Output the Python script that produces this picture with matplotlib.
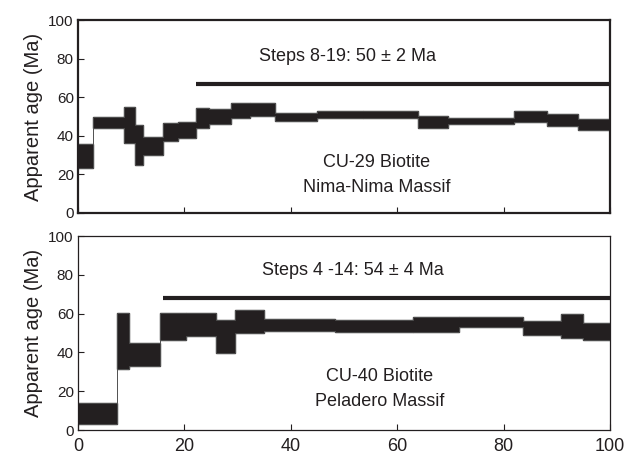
import matplotlib
matplotlib.use("Agg")
import matplotlib.pyplot as plt
import numpy as np

plt.rcParams['font.family'] = ['Liberation Sans', 'DejaVu Sans']

# CU-29 biotite: cumulative %39Ar step edges and age band (low, high) in Ma
cu29_edges = [0, 2.9, 8.7, 10.7, 12.3, 16.0, 18.8, 22.1, 24.6, 28.7, 32.3, 37.0,
              44.9, 53.6, 64.0, 69.5, 82.0, 88.1, 94.0, 100]
cu29_low = [23.2, 44.2, 36.1, 24.9, 30.1, 37.3, 38.7, 43.9, 46.0, 49.1, 50.3,
            47.8, 49.1, 49.1, 44.2, 46.0, 47.3, 45.1, 43.0]
cu29_high = [35.7, 49.9, 54.8, 45.6, 39.2, 46.8, 47.2, 54.2, 53.7, 57.2, 56.8,
             52.0, 52.8, 52.8, 50.3, 49.1, 53.0, 51.1, 48.5]
cu29_plateau = (22.1, 100, 66.7)

# CU-40 biotite
cu40_edges = [0, 7.4, 9.5, 15.5, 20.3, 25.9, 29.5, 35.0, 48.4, 63.0, 71.7, 83.6,
              90.8, 95.0, 100]
cu40_low = [2.9, 31.2, 33.1, 46.3, 48.6, 39.8, 50.1, 51.0, 50.5, 50.3, 53.2,
            48.9, 47.5, 46.2]
cu40_high = [14.1, 60.4, 45.1, 60.4, 60.4, 56.6, 61.8, 57.0, 56.6, 58.4, 58.4,
             56.3, 59.6, 55.0]
cu40_plateau = (15.9, 100, 67.8)

x_ticks = [0, 20, 40, 60, 80, 100]
y_ticks = [0, 20, 40, 60, 80, 100]

ink = '#231f20'

fig = plt.figure(figsize=(6.42, 4.58), dpi=100)
ax1 = fig.add_axes([0.1215, 0.535, 0.8285, 0.4213])
ax2 = fig.add_axes([0.1215, 0.0611, 0.8285, 0.4236])


def spectrum(ax, edges, low, high, plateau, title, l1, l2, tpos, lpos, spine_w):
    e = np.array(edges)
    lo = np.array(low)
    hi = np.array(high)
    ax.bar(e[:-1], hi - lo, width=np.diff(e), bottom=lo, align='edge',
           color=ink, edgecolor=ink, linewidth=1.0)
    # thin connecting outline of the step spectrum
    ax.stairs(hi, e, baseline=lo, fill=False, color='#555555', linewidth=0.6)
    ax.plot([plateau[0], plateau[1]], [plateau[2], plateau[2]], color=ink,
            linewidth=3.0, solid_capstyle='butt')
    ax.text(tpos[0], tpos[1], title, ha='center', va='center', fontsize=13, color=ink)
    ax.text(lpos[0], lpos[1], l1, ha='center', va='center', fontsize=13, color=ink)
    ax.text(lpos[0], lpos[2], l2, ha='center', va='center', fontsize=13, color=ink)
    ax.set_xlim(0, 100)
    ax.set_ylim(0, 100)
    ax.set_xticks(x_ticks)
    ax.set_yticks(y_ticks)
    ax.tick_params(direction='in', length=4, width=0.8, labelsize=11,
                   colors=ink, labelcolor=ink, pad=3)
    for s in ax.spines.values():
        s.set_linewidth(spine_w)
        s.set_color(ink)
    ax.set_ylabel('Apparent age (Ma)', fontsize=14.5, color=ink, labelpad=4)


spectrum(ax1, cu29_edges, cu29_low, cu29_high, cu29_plateau,
         'Steps 8-19: 50 \u00b1 2 Ma', 'CU-29 Biotite', 'Nima-Nima Massif',
         (50.7, 81.3), (56.2, 26.4, 13.1), 1.6)
ax1.tick_params(labelbottom=False)
spectrum(ax2, cu40_edges, cu40_low, cu40_high, cu40_plateau,
         'Steps 4 -14: 54 \u00b1 4 Ma', 'CU-40 Biotite', 'Peladero Massif',
         (51.6, 82.4), (56.7, 27.5, 14.6), 0.9)
ax2.tick_params(axis='x', pad=6, labelsize=13)

fig.savefig('out.png', dpi=100)
